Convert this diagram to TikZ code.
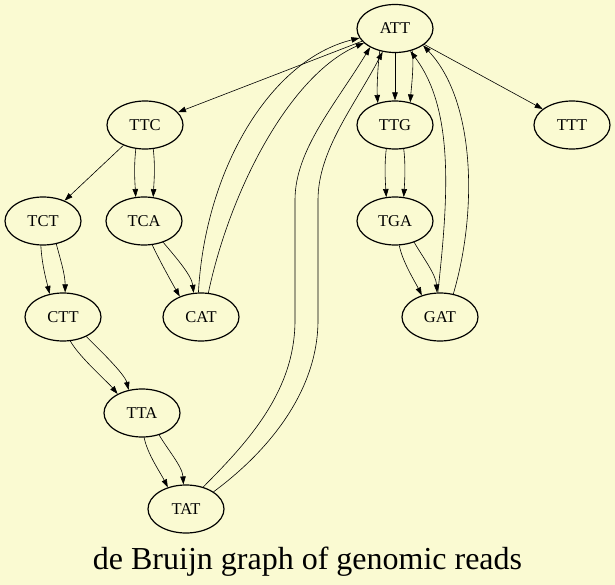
\documentclass[tikz,border=0pt]{standalone}
\usepackage{fontspec}
\setmainfont{Liberation Serif}
\usetikzlibrary{shapes.geometric,arrows.meta}
\definecolor{bgyellow}{RGB}{250,250,210}
\begin{document}
\begin{tikzpicture}[x=1pt, y=-1pt,
  kmer/.style={ellipse, draw, line width=1.2pt, minimum width=76pt, minimum height=48pt, inner sep=0pt, font=\fontsize{16.5}{16.5}\selectfont},
  edge/.style={-{Triangle[length=8pt, width=5.5pt]}, line width=0.6pt}]
\fill[bgyellow] (0,0) rectangle (615,585);
\useasboundingbox (0,0) rectangle (615,585);

\node[kmer] (ATT) at (395,28.5) {ATT};
\node[kmer] (TTC) at (145,125) {TTC};
\node[kmer] (TTG) at (395,125) {TTG};
\node[kmer] (TTT) at (572,125) {TTT};
\node[kmer] (TCT) at (43,221) {TCT};
\node[kmer] (TCA) at (144,221) {TCA};
\node[kmer] (TGA) at (395,221) {TGA};
\node[kmer] (CTT) at (63,317) {CTT};
\node[kmer] (CAT) at (201,317) {CAT};
\node[kmer] (GAT) at (440,317) {GAT};
\node[kmer] (TTA) at (142,413) {TTA};
\node[kmer] (TAT) at (186,509) {TAT};
\node[anchor=base, font=\fontsize{32}{32}\selectfont] (title) at (307.5,569) {de Bruijn graph of genomic reads};

\draw[edge] (ATT) -- (TTC);
\draw[edge] (ATT) -- (TTT);
\draw[edge] (ATT) -- (TTG);
\draw[edge] (ATT.-124) .. controls +(-2,14) and +(-1,-14) .. (TTG.128);
\draw[edge] (ATT.-52) .. controls +(2,14) and +(1,-14) .. (TTG.56);

\draw[edge] (TTC) -- (TCT);
\draw[edge] (TTC.-111) .. controls +(-2,18) and +(-1,-18) .. (TCA.109);
\draw[edge] (TTC.-71) .. controls +(2,18) and +(1,-18) .. (TCA.69);

\draw[edge] (TCT.-95) .. controls +(1,18) and +(-4,-16) .. (CTT.120);
\draw[edge] (TCT.-60) .. controls +(4,15) and +(0,-18) .. (CTT.85);
\draw[edge] (TCA.-71) .. controls +(7,15) and +(-8,-14) .. (CAT.136);
\draw[edge] (TCA.-48) .. controls +(10,12) and +(-2,-18) .. (CAT.107);

\draw[edge] (CTT.-73) .. controls +(9,16) and +(-10,-12) .. (TTA.142);
\draw[edge] (CTT.-40) .. controls +(12,12) and +(-4,-16) .. (TTA.120);
\draw[edge] (TTA.-85) .. controls +(3,16) and +(-7,-14) .. (TAT.130);
\draw[edge] (TTA.-52) .. controls +(8,14) and +(-1,-18) .. (TAT.96);

\draw[edge] (TTG.-110) .. controls +(-2,16) and +(-1,-16) .. (TGA.110);
\draw[edge] (TTG.-70) .. controls +(2,16) and +(1,-16) .. (TGA.70);
\draw[edge] (TGA.-80) .. controls +(3,16) and +(-7,-14) .. (GAT.130);
\draw[edge] (TGA.-48) .. controls +(8,14) and +(-1,-18) .. (GAT.97);

\draw[edge] (GAT.95) .. controls (448,200) and (455,110) .. (ATT.-56);
\draw[edge] (GAT.60) .. controls (478,210) and (475,100) .. (ATT.-31);
\draw[edge] (CAT.96) .. controls (205,170) and (270,60) .. (ATT.-165);
\draw[edge] (CAT.73) .. controls (230,190) and (290,75) .. (ATT.-155);
\draw[edge] (TAT.52) .. controls (250,440) and (295,390) .. (295,320) -- (295,200) .. controls (295,150) and (335,105) .. (ATT.-143);
\draw[edge] (TAT.32) .. controls (270,450) and (318,390) .. (318,320) -- (318,200) .. controls (318,150) and (355,105) .. (ATT.-118);
\end{tikzpicture}
\end{document}
